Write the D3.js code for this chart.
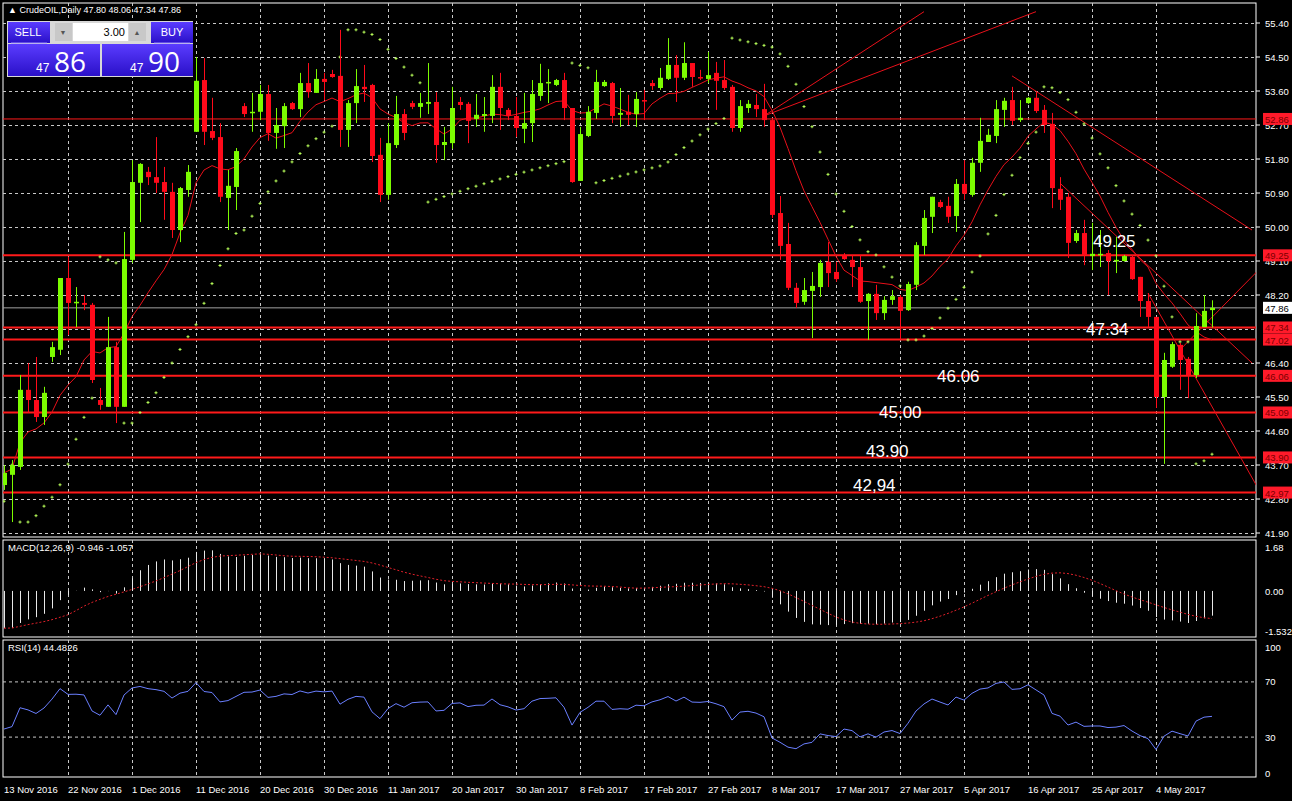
<!DOCTYPE html>
<html><head><meta charset="utf-8">
<script src="https://cdn.jsdelivr.net/npm/d3@7"></script>
<style>body{margin:0;background:#000;}svg{display:block;font-family:"Liberation Sans",Arial,sans-serif;}</style>
</head><body><svg id="c" width="1292" height="801"></svg>
<script>
const opens=[43.17,43.44,43.65,45.69,45.42,44.97,46.56,46.75,48.65,47.99,47.99,47.94,45.42,45.24,46.82,45.24,49.13,51.17,51.46,51.32,51.19,50.93,49.92,50.98,52.52,53.89,52.54,52.38,50.77,51.06,53.20,53.02,53.05,53.52,52.49,52.67,53.28,53.12,53.81,53.55,53.92,54.05,54.00,52.57,53.28,53.71,53.76,51.91,50.85,52.17,52.99,53.28,53.18,53.26,53.31,52.17,52.22,53.31,53.26,52.86,52.94,52.94,53.71,53.10,52.94,52.60,52.75,53.47,53.81,53.76,53.89,53.15,51.22,52.41,53.02,53.73,53.81,52.97,53.05,52.99,53.36,53.81,53.68,53.92,54.29,53.95,54.34,53.97,53.92,54.08,53.89,53.71,52.62,53.15,53.23,53.12,52.83,50.37,49.55,48.39,48.02,48.31,48.41,49.08,48.81,49.26,49.13,48.94,48.04,48.23,47.72,48.07,48.15,47.80,48.47,49.50,50.27,50.66,50.56,50.29,51.14,50.85,51.70,52.25,52.41,53.10,53.36,52.83,53.28,53.42,53.10,52.73,51.01,50.80,49.63,49.84,49.23,49.26,49.31,49.10,49.10,49.21,48.68,48.04,47.62,45.50,46.30,46.88,46.51,46.08,47.35,47.80];
const highs=[43.70,43.83,46.08,46.40,46.56,45.77,46.96,48.65,49.21,48.41,48.20,47.99,45.74,47.62,46.96,49.87,51.77,51.69,51.59,52.38,51.59,51.17,51.06,51.64,54.50,54.47,53.42,52.75,51.51,52.09,53.28,53.55,53.76,53.76,53.15,53.28,53.31,54.08,54.34,54.18,54.08,54.16,55.22,53.36,54.18,54.29,53.79,52.36,52.75,53.47,53.12,53.34,53.55,54.34,53.57,52.65,53.71,53.44,53.31,53.52,53.44,54.02,54.08,53.15,53.44,53.55,53.89,54.32,54.18,53.92,54.08,53.15,52.65,53.20,54.16,53.89,53.84,53.68,53.50,53.57,53.63,53.89,54.21,55.00,54.55,54.89,54.34,54.16,54.63,54.37,54.42,53.76,53.36,53.36,53.52,53.79,52.89,50.82,50.11,48.52,48.65,48.81,49.13,49.60,49.08,49.31,49.26,49.26,48.25,48.47,48.17,48.33,48.20,48.55,49.60,50.45,50.80,50.72,50.80,51.27,51.77,51.83,52.89,52.60,53.36,53.42,53.71,53.36,53.44,53.57,53.23,53.02,51.32,50.90,49.92,50.19,50.11,49.92,49.39,49.74,49.26,49.26,48.68,48.25,47.62,46.67,46.96,46.93,46.56,47.72,48.20,48.06];
const lows=[43.04,42.19,43.57,45.08,44.84,44.76,46.43,46.61,47.14,47.35,47.80,45.87,45.16,45.24,44.81,45.24,49.05,50.13,51.11,50.90,50.19,49.71,49.60,50.80,52.52,52.17,52.30,50.66,49.92,50.45,52.91,52.52,52.83,52.28,52.07,52.09,53.10,52.91,53.42,53.55,53.36,53.95,52.12,52.12,52.75,53.31,51.72,50.66,50.72,52.09,52.30,53.12,52.89,52.99,51.70,51.77,52.07,53.10,52.22,52.65,52.52,52.75,52.57,52.83,52.38,52.22,52.25,53.34,53.28,53.73,52.83,51.17,51.22,52.38,52.86,53.71,52.75,52.65,52.70,52.65,52.83,53.63,53.63,53.89,53.31,53.89,53.71,53.89,53.81,53.10,53.63,52.52,52.52,53.02,52.91,52.65,50.24,49.13,48.33,47.86,47.94,47.06,48.15,48.41,48.55,49.13,48.41,47.99,47.01,47.54,47.54,47.94,47.01,47.78,48.33,49.26,49.84,50.50,50.11,49.87,50.72,50.80,51.46,52.25,52.22,52.65,52.70,52.78,53.26,53.02,52.49,50.50,50.45,49.18,49.58,48.99,48.86,48.94,48.20,48.78,49.08,48.60,47.62,47.35,45.21,43.73,46.27,45.69,45.47,46.00,47.35,47.34];
const closes=[43.49,43.70,45.69,45.42,44.97,45.61,46.82,48.65,47.99,48.02,47.94,45.95,45.29,46.82,45.24,49.15,51.19,51.67,51.32,51.17,50.93,49.92,51.03,51.46,53.87,52.52,52.36,50.80,51.09,52.01,52.99,53.05,53.52,52.49,52.70,53.20,53.12,53.81,53.57,53.92,53.84,53.97,52.57,53.28,53.73,53.65,51.88,50.85,52.22,52.99,52.49,53.18,53.28,53.31,52.17,52.25,53.15,53.23,52.81,52.97,52.99,53.71,53.15,52.94,52.62,52.75,53.52,53.81,53.84,53.89,53.15,51.19,52.46,53.05,53.84,53.84,52.94,53.02,52.97,53.39,53.34,53.73,53.95,54.29,53.95,54.34,53.97,53.95,54.02,53.87,53.68,52.62,53.20,53.26,53.12,52.83,50.32,49.50,48.39,47.99,48.33,48.44,49.05,48.78,48.62,49.15,48.94,48.02,48.23,47.72,48.07,48.17,47.78,48.49,49.52,50.24,50.80,50.53,50.27,51.14,50.88,51.70,52.28,52.44,53.12,53.34,52.81,52.89,53.42,53.07,52.70,51.03,50.72,49.58,49.84,49.26,49.29,49.29,49.10,49.13,49.23,48.62,48.04,47.62,45.50,46.48,46.90,46.48,46.08,47.38,47.78,47.86];
const dateLabels=["13 Nov 2016","22 Nov 2016","1 Dec 2016","11 Dec 2016","20 Dec 2016","30 Dec 2016","11 Jan 2017","20 Jan 2017","30 Jan 2017","8 Feb 2017","17 Feb 2017","27 Feb 2017","8 Mar 2017","17 Mar 2017","27 Mar 2017","5 Apr 2017","16 Apr 2017","25 Apr 2017","4 May 2017"];
const priceTicks=[55.40,54.50,53.60,52.70,51.80,50.90,50.00,49.10,48.20,46.40,45.50,44.60,43.70,42.80,41.90];
const levels=[52.86,49.25,47.34,47.02,46.06,45.09,43.90,42.97];
const levelWidths=[1,2,2,2,2,2,2,2];
const levelNotes=[["49.25",49.25,1093,-8],["47.34",47.34,1086,8],["46.06",46.06,937,6],["45.00",45.09,879,6],["43.90",43.90,866,0],["42,94",42.97,853,-2]];
const macdTicks=[["1.68",1.68],["0.00",0],["-1.532",-1.532]];
const rsiTicks=[100,70,30,0];
// prior-history seeds for the indicators (levels before the first visible bar)
const emaSeed12=45.1, emaSeed26=46.5, rsiSeedGain=0.22, rsiSeedLoss=0.40;
const trendLines=[[[95,52.94],[115,55.70]],[[95,52.94],[129,55.70]],[[126,54.00],[156,49.92]],[[132,51.16],[156,46.40]],[[143,48.25],[157,42.99]],[[147,46.75],[157,48.90]]];

const svg=d3.select("#c");
const L=3,R=1256;
const N=closes.length;
const x=d3.scaleLinear().domain([0,N-1]).range([4,1212]);
const y=d3.scaleLinear().domain([41.90,55.40]).range([533,23]);
const ym=d3.scaleLinear().domain([-1.532,1.68]).range([631,547]);
const yr=d3.scaleLinear().domain([0,100]).range([778,640]);
const grid="#c8c8c8";
svg.append("rect").attr("width",1292).attr("height",801).attr("fill","#000");

function panel(t,b){
  svg.append("rect").attr("x",L).attr("y",t).attr("width",R-L).attr("height",b-t).attr("fill","none").attr("stroke","#fff").attr("stroke-width",1);
  dateLabels.forEach((d,k)=>{ if(k==0)return;
    svg.append("line").attr("x1",x(k*8)+.5).attr("x2",x(k*8)+.5).attr("y1",t).attr("y2",b).attr("stroke",grid).attr("stroke-dasharray","3,3").attr("stroke-width",1);});
}
svg.append("defs").append("clipPath").attr("id","mc").append("rect").attr("x",L).attr("y",3).attr("width",R-L).attr("height",534);
panel(3,537); panel(540,637); panel(640,777);
priceTicks.concat([47.30]).forEach(p=>{
  svg.append("line").attr("x1",L).attr("x2",R).attr("y1",Math.round(y(p))+.5).attr("y2",Math.round(y(p))+.5).attr("stroke",grid).attr("stroke-dasharray","3,3");
});
const mg=svg.append("g").attr("clip-path","url(#mc)");
levels.forEach((p,i)=>mg.append("line").attr("x1",L).attr("x2",R).attr("y1",y(p)).attr("y2",y(p)).attr("stroke","#ff1a1a").attr("stroke-width",levelWidths[i]));
mg.append("line").attr("x1",L).attr("x2",R).attr("y1",y(closes[N-1])).attr("y2",y(closes[N-1])).attr("stroke","#a0a0a0");
const maP=10;
const ma=closes.map((c,i)=>d3.mean(closes.slice(Math.max(0,i-maP+1),i+1)));
mg.append("path").attr("d",d3.line().x((d,i)=>x(i)).y(d=>y(d))(ma)).attr("fill","none").attr("stroke","#e8101a").attr("stroke-width",1);
trendLines.forEach(t=>mg.append("line").attr("x1",x(t[0][0])).attr("y1",y(t[0][1])).attr("x2",x(t[1][0])).attr("y2",y(t[1][1])).attr("stroke","#e8101a").attr("stroke-width",1));
(function(){
  let up=true,af=0.02,ep=highs[0],sar=lows[0]-0.3;const out=[];
  for(let i=0;i<N;i++){
    if(i>0){sar=sar+af*(ep-sar);
      if(up){sar=Math.min(sar,lows[i-1],i>1?lows[i-2]:lows[i-1]);
        if(lows[i]<sar){up=false;sar=ep;ep=lows[i];af=0.02;}
        else if(highs[i]>ep){ep=highs[i];af=Math.min(0.2,af+0.02);}
      }else{sar=Math.max(sar,highs[i-1],i>1?highs[i-2]:highs[i-1]);
        if(highs[i]>sar){up=true;sar=ep;ep=highs[i];af=0.02;}
        else if(lows[i]<ep){ep=lows[i];af=Math.min(0.2,af+0.02);}
      }}
    out.push(sar);}
  out.forEach((s,i)=>{const cx=x(i),cy=y(s);
    mg.append("path").attr("d",`M${cx-1.5},${cy}H${cx+1.5}M${cx},${cy-1.5}V${cy+1.5}`).attr("stroke","#b8ff5a").attr("stroke-width",1);});
})();
const up="#7cfc00",dn="#ff0a1a";
closes.forEach((c,i)=>{const o=opens[i],col=c>=o?up:dn,cx=Math.round(x(i))+.5;
  mg.append("line").attr("x1",cx).attr("x2",cx).attr("y1",y(highs[i])).attr("y2",y(lows[i])).attr("stroke",col);
  const t=y(Math.max(o,c)),b=y(Math.min(o,c));
  mg.append("rect").attr("x",cx-2.5).attr("y",t).attr("width",5).attr("height",Math.max(1.5,b-t)).attr("fill",col);
});
levelNotes.forEach(n=>svg.append("text").attr("x",n[2]).attr("y",y(n[1])+n[3]).attr("fill","#fff").attr("font-size",17).text(n[0]));
const ax=svg.append("g").attr("font-size",9.5).attr("fill","#fff");
priceTicks.forEach(p=>{svg.append("line").attr("x1",R).attr("x2",R+4).attr("y1",y(p)).attr("y2",y(p)).attr("stroke","#fff");
  ax.append("text").attr("x",1265).attr("y",y(p)+4).text(p.toFixed(2));});
levels.forEach(p=>{ax.append("rect").attr("x",1263).attr("y",y(p)-6).attr("width",29).attr("height",12).attr("fill","#ff1a2a");
  ax.append("text").attr("x",1265).attr("y",y(p)+4).attr("fill","#7a0000").text(p.toFixed(2));});
ax.append("rect").attr("x",1263).attr("y",y(closes[N-1])-6).attr("width",29).attr("height",12).attr("fill","#fff");
ax.append("text").attr("x",1265).attr("y",y(closes[N-1])+4).attr("fill","#000").text(closes[N-1].toFixed(2));
function ema(a,p,s){const k=2/(p+1);const r=[];let prev=s;a.forEach(v=>{prev=v*k+prev*(1-k);r.push(prev);});return r;}
const e12=ema(closes,12,emaSeed12),e26=ema(closes,26,emaSeed26);
const macd=e12.map((v,i)=>v-e26[i]);
const sig=macd.map((v,i)=>d3.mean(macd.slice(Math.max(0,i-8),i+1)));
macd.forEach((m,i)=>svg.append("line").attr("x1",x(i)+.5).attr("x2",x(i)+.5).attr("y1",ym(0)).attr("y2",ym(m)).attr("stroke","#e8e8e8").attr("stroke-width",1));
svg.append("path").attr("d",d3.line().x((d,i)=>x(i)).y(d=>ym(d))(sig)).attr("fill","none").attr("stroke","#e0202a").attr("stroke-dasharray","2,2");
macdTicks.forEach(t=>{ax.append("text").attr("x",1265).attr("y",ym(t[1])+4).text(t[0]);});
svg.append("text").attr("x",8).attr("y",551).attr("fill","#fff").attr("font-size",9.5).text(`MACD(12,26,9) -0.946 -1.057`);
const rsi=[];let ag=rsiSeedGain,al=rsiSeedLoss;
closes.forEach((c,i)=>{const ch=i?c-closes[i-1]:0;const g=Math.max(ch,0),l=Math.max(-ch,0);
  ag=(ag*13+g)/14;al=(al*13+l)/14;rsi.push(100-100/(1+ag/al));});
[70,30].forEach(v=>svg.append("line").attr("x1",L).attr("x2",R).attr("y1",yr(v)+.5).attr("y2",yr(v)+.5).attr("stroke",grid).attr("stroke-dasharray","3,3"));
svg.append("path").attr("d",d3.line().x((d,i)=>x(i)).y(d=>yr(d))(rsi)).attr("fill","none").attr("stroke","#6a7fff").attr("stroke-width",1);
rsiTicks.forEach(v=>ax.append("text").attr("x",1265).attr("y",yr(v)+4+(v==100?7:v==0?-5:0)).text(v));
svg.append("text").attr("x",8).attr("y",651).attr("fill","#fff").attr("font-size",9.5).text("RSI(14) 44.4826");
dateLabels.forEach((d,k)=>svg.append("text").attr("x",x(k*8)).attr("y",793).attr("fill","#fff").attr("font-size",9.5).text(d));
svg.append("text").attr("x",8).attr("y",13).attr("fill","#fff").attr("font-size",9).text("▲ CrudeOIL,Daily  47.80 48.06 47.34 47.86");
const gd=svg.append("defs").append("linearGradient").attr("id","bg").attr("x1",0).attr("y1",0).attr("x2",0).attr("y2",1);
gd.append("stop").attr("offset","0").attr("stop-color","#5a3cff");gd.append("stop").attr("offset","1").attr("stop-color","#2a10c8");
const w=svg.append("g");
w.append("rect").attr("x",7).attr("y",21).attr("width",186).attr("height",56).attr("fill","#d8d8d8");
w.append("rect").attr("x",8).attr("y",22).attr("width",42).attr("height",21).attr("fill","url(#bg)");
w.append("rect").attr("x",151).attr("y",22).attr("width",42).attr("height",21).attr("fill","url(#bg)");
w.append("rect").attr("x",8).attr("y",44).attr("width",92).attr("height",32).attr("fill","url(#bg)");
w.append("rect").attr("x",102).attr("y",44).attr("width",91).attr("height",32).attr("fill","url(#bg)");
w.append("rect").attr("x",73).attr("y",23).attr("width",55).attr("height",18).attr("fill","#fff");
w.append("rect").attr("x",55).attr("y",23).attr("width",17).attr("height",18).attr("fill","#c8c8c8");
w.append("rect").attr("x",129).attr("y",23).attr("width",17).attr("height",18).attr("fill","#c8c8c8");
w.append("text").attr("x",63).attr("y",35).attr("text-anchor","middle").attr("font-size",7).attr("fill","#555").text("▼");
w.append("text").attr("x",137).attr("y",35).attr("text-anchor","middle").attr("font-size",7).attr("fill","#555").text("▲");
w.append("text").attr("x",125).attr("y",36).attr("text-anchor","end").attr("font-size",11).attr("fill","#000").text("3.00");
w.append("text").attr("x",28).attr("y",36).attr("text-anchor","middle").attr("font-size",11).attr("fill","#fff").text("SELL");
w.append("text").attr("x",172).attr("y",36).attr("text-anchor","middle").attr("font-size",11).attr("fill","#fff").text("BUY");
w.append("line").attr("x1",11).attr("x2",47).attr("y1",43).attr("y2",43).attr("stroke","#9a8cff");
w.append("line").attr("x1",154).attr("x2",190).attr("y1",43).attr("y2",43).attr("stroke","#9a8cff");
w.append("text").attr("x",36).attr("y",72).attr("font-size",12).attr("fill","#fff").text("47");
w.append("text").attr("x",54).attr("y",72).attr("font-size",28).attr("fill","#fff").attr("font-family","'Open Sans',sans-serif").text("86");
w.append("text").attr("x",130).attr("y",72).attr("font-size",12).attr("fill","#fff").text("47");
w.append("text").attr("x",148).attr("y",72).attr("font-size",28).attr("fill","#fff").attr("font-family","'Open Sans',sans-serif").text("90");
</script></body></html>
